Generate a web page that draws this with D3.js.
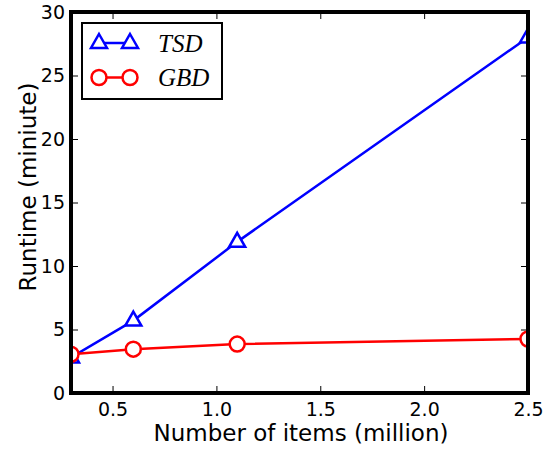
<!DOCTYPE html>
<html>
<head>
<meta charset="utf-8">
<script src="https://cdn.jsdelivr.net/npm/d3@7"></script>
<style>
  body { margin: 0; background: #fff; }
  text { font-family: "DejaVu Sans", sans-serif; }
</style>
</head>
<body>
<div id="chart"></div>
<script>
const items = [0.3, 0.6, 1.1, 2.5]
const tsd = [2.8, 5.7, 11.9, 28.0]
const gbd = [3.05, 3.45, 3.85, 4.25]
const xTicks = [0.5, 1.0, 1.5, 2.0, 2.5]
const yTicks = [0, 5, 10, 15, 20, 25, 30]

const w = 552, h = 451
const margin = { left: 71, right: 24, top: 12, bottom: 58 }
const width = w - margin.left - margin.right
const height = h - margin.top - margin.bottom

const x = d3.scaleLinear().domain([0.3, 2.5]).range([0, width])
const y = d3.scaleLinear().domain([0, 30]).range([height, 0])

const svg = d3.select('#chart').append('svg')
  .attr('width', w)
  .attr('height', h)

const chart = svg.append('g')
  .attr('transform', 'translate(' + margin.left + ',' + margin.top + ')')

chart.append('clipPath').attr('id', 'clip')
  .append('rect').attr('width', width).attr('height', height)

// axes with inward ticks on all four sides
function styleAxis(g) {
  g.select('.domain').remove()
  g.selectAll('.tick line').attr('stroke', '#000').attr('stroke-width', 1)
  g.selectAll('.tick text').attr('font-size', 19).attr('fill', '#000')
}

chart.append('g')
  .attr('transform', 'translate(0,' + height + ')')
  .call(d3.axisBottom(x).tickValues(xTicks).tickSizeInner(-7).tickSizeOuter(0)
    .tickPadding(10).tickFormat(d3.format('.1f')))
  .call(styleAxis)

chart.append('g')
  .call(d3.axisTop(x).tickValues(xTicks).tickSizeInner(-7).tickSizeOuter(0).tickFormat(''))
  .call(styleAxis)

chart.append('g')
  .call(d3.axisLeft(y).tickValues(yTicks).tickSizeInner(-7).tickSizeOuter(0).tickPadding(6))
  .call(styleAxis)

chart.append('g')
  .attr('transform', 'translate(' + width + ',0)')
  .call(d3.axisRight(y).tickValues(yTicks).tickSizeInner(-7).tickSizeOuter(0).tickFormat(''))
  .call(styleAxis)

const series = [
  { name: 'TSD', values: tsd, color: '#0000ff', marker: 'triangle' },
  { name: 'GBD', values: gbd, color: '#ff0000', marker: 'circle' }
]

const line = d3.line()
  .x((d, i) => x(items[i]))
  .y(d => y(d))

const plot = chart.append('g').attr('clip-path', 'url(#clip)')

function drawMarker(g, type, color) {
  if (type === 'triangle') {
    g.append('path')
      .attr('d', 'M0,-9 L8,5 L-8,5 Z')
      .attr('fill', '#fff')
      .attr('stroke', color)
      .attr('stroke-width', 2.5)
  } else {
    g.append('circle')
      .attr('r', 7.5)
      .attr('fill', '#fff')
      .attr('stroke', color)
      .attr('stroke-width', 2.5)
  }
}

series.forEach(s => {
  plot.append('path')
    .datum(s.values)
    .attr('d', line)
    .attr('fill', 'none')
    .attr('stroke', s.color)
    .attr('stroke-width', 2.5)

  s.values.forEach((v, i) => {
    const g = plot.append('g')
      .attr('transform', 'translate(' + x(items[i]) + ',' + y(v) + ')')
    drawMarker(g, s.marker, s.color)
  })
})

// frame
chart.append('rect')
  .attr('width', width)
  .attr('height', height)
  .attr('fill', 'none')
  .attr('stroke', '#000')
  .attr('stroke-width', 4)

// legend
const legend = chart.append('g').attr('transform', 'translate(11,11)')
legend.append('rect')
  .attr('width', 140)
  .attr('height', 76)
  .attr('fill', '#fff')
  .attr('stroke', '#000')
  .attr('stroke-width', 2)

series.forEach((s, i) => {
  const ly = 20 + i * 34.5
  legend.append('line')
    .attr('x1', 17).attr('x2', 48)
    .attr('y1', ly).attr('y2', ly)
    .attr('stroke', s.color)
    .attr('stroke-width', 2.5)
  ;[17, 48].forEach(mx => {
    const g = legend.append('g').attr('transform', 'translate(' + mx + ',' + ly + ')')
    drawMarker(g, s.marker, s.color)
  })
  legend.append('text')
    .attr('x', 76)
    .attr('y', ly + 8.5)
    .attr('font-size', 25)
    .attr('font-style', 'italic')
    .style('font-family', '"Liberation Serif", serif')
    .text(s.name)
})

// axis labels
svg.append('text')
  .attr('x', 301)
  .attr('y', 441)
  .attr('text-anchor', 'middle')
  .attr('font-size', 23)
  .text('Number of items (million)')

svg.append('text')
  .attr('transform', 'translate(36,187) rotate(-90)')
  .attr('text-anchor', 'middle')
  .attr('font-size', 23)
  .text('Runtime (miniute)')
</script>
</body>
</html>
